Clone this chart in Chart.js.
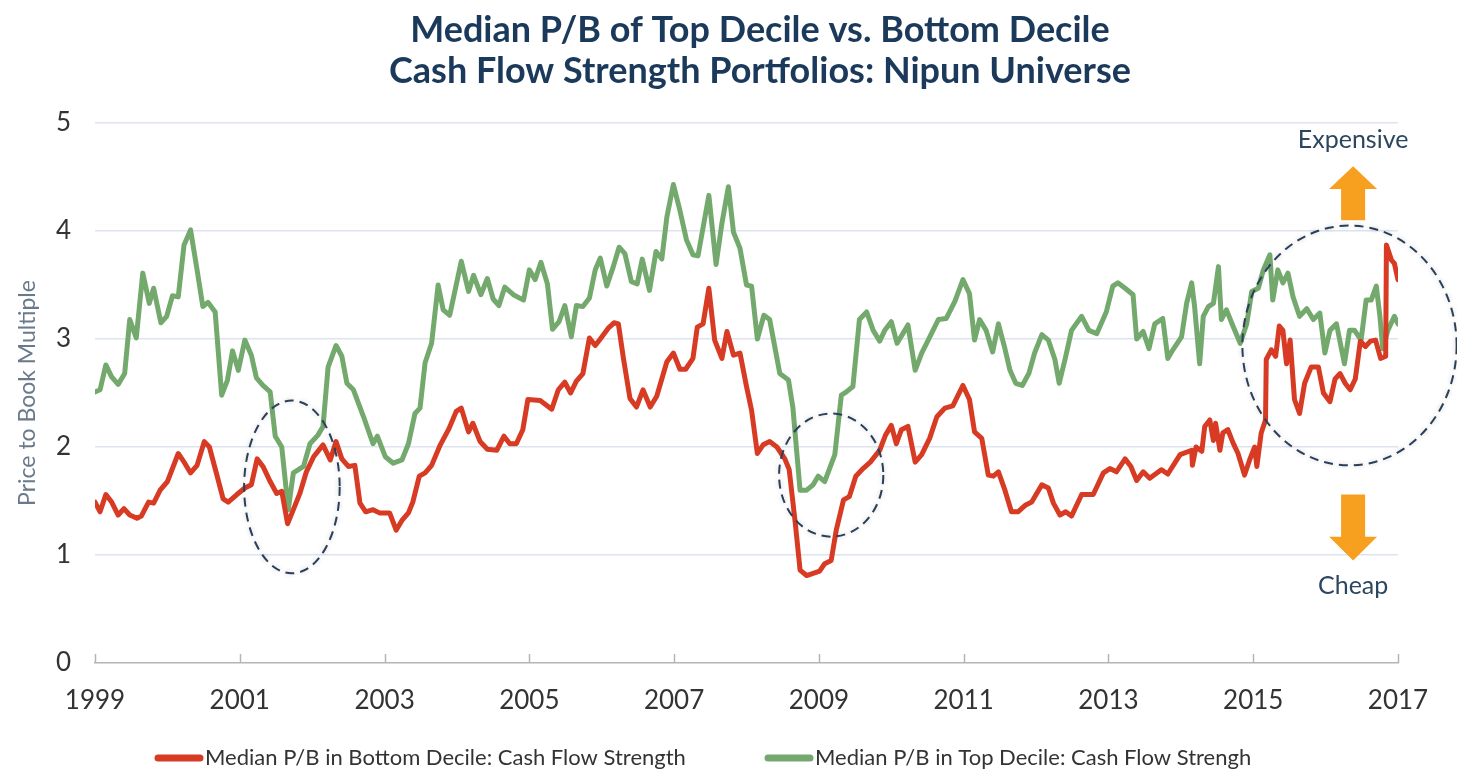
<!DOCTYPE html>
<html>
<head>
<meta charset="utf-8">
<script src="https://cdn.jsdelivr.net/npm/chart.js@4.4.0/dist/chart.umd.min.js"></script>
<style>
  html, body { margin: 0; padding: 0; background: #fff; }
  #wrap { width: 1457px; height: 771px; position: relative; }
</style>
</head>
<body>
<div id="wrap"><canvas id="pbChart"></canvas></div>
<script>
// Title / labels ++++++++++++++++++++
const titleLines = ['Median P/B of Top Decile vs. Bottom Decile', 'Cash Flow Strength Portfolios: Nipun Universe'];
const yAxisTitle = 'Price to Book Multiple';
const xTickYears = [1999, 2001, 2003, 2005, 2007, 2009, 2011, 2013, 2015, 2017];
const yTickValues = [0, 1, 2, 3, 4, 5];
const bottomLabel = 'Median P/B in Bottom Decile: Cash Flow Strength';
const topLabel = 'Median P/B in Top Decile: Cash Flow Strengh';

// Bottom decile (red)
const bottomYears = [1999.00,1999.07,1999.15,1999.23,1999.32,1999.40,1999.48,1999.58,1999.64,1999.74,1999.81,1999.90,
  2000.00,2000.15,2000.24,2000.32,2000.41,2000.51,2000.58,2000.68,2000.77,2000.84,2000.96,
  2001.07,2001.16,2001.24,2001.32,2001.42,2001.51,2001.58,2001.66,2001.74,2001.83,2001.92,
  2002.02,2002.15,2002.25,2002.33,2002.41,2002.50,2002.59,2002.66,2002.74,2002.84,2002.93,
  2003.07,2003.16,2003.24,2003.33,2003.39,2003.48,2003.56,2003.65,2003.77,2003.89,2003.99,
  2004.06,2004.16,2004.22,2004.32,2004.42,2004.55,2004.65,2004.73,2004.82,2004.91,2004.98,
  2005.15,2005.31,2005.40,2005.49,2005.57,2005.65,2005.74,2005.83,2005.91,2005.98,
  2006.09,2006.17,2006.23,2006.30,2006.39,2006.48,2006.57,2006.67,2006.76,2006.90,2006.99,
  2007.08,2007.16,2007.26,2007.32,2007.40,2007.48,2007.56,2007.66,2007.73,2007.82,2007.91,
  2008.00,2008.07,2008.15,2008.23,2008.32,2008.42,2008.53,2008.59,2008.67,2008.74,2008.83,2008.92,
  2009.01,2009.08,2009.17,2009.24,2009.34,2009.42,2009.51,2009.61,2009.71,2009.84,2009.92,
  2010.00,2010.07,2010.14,2010.23,2010.33,2010.42,2010.53,2010.63,2010.74,2010.85,2010.99,
  2011.08,2011.15,2011.25,2011.34,2011.41,2011.48,2011.57,2011.66,2011.75,2011.85,2011.94,
  2012.08,2012.17,2012.24,2012.33,2012.41,2012.49,2012.63,2012.79,2012.93,
  2013.02,2013.11,2013.23,2013.31,2013.39,2013.48,2013.57,2013.73,2013.82,2013.99,
  2014.15,2014.16,2014.21,2014.29,2014.33,2014.40,2014.45,2014.48,2014.54,2014.58,2014.65,2014.72,2014.79,2014.88,2014.95,
  2015.02,2015.05,2015.11,2015.17,2015.18,2015.25,2015.31,2015.36,2015.41,2015.46,2015.51,2015.57,2015.64,2015.71,2015.80,2015.90,2015.97,
  2016.06,2016.13,2016.20,2016.27,2016.34,2016.41,2016.48,2016.55,2016.62,2016.69,2016.76,2016.83,2016.84,2016.91,2016.95,2017.00];
const bottomPB = [1.49,1.40,1.56,1.49,1.37,1.43,1.37,1.34,1.36,1.49,1.48,1.60,
  1.68,1.94,1.85,1.76,1.83,2.05,2.00,1.75,1.52,1.49,1.56,
  1.62,1.65,1.89,1.82,1.68,1.57,1.59,1.29,1.42,1.57,1.77,
  1.91,2.02,1.88,2.05,1.89,1.82,1.83,1.48,1.40,1.42,1.39,
  1.39,1.23,1.32,1.39,1.49,1.73,1.76,1.83,2.02,2.17,2.33,
  2.36,2.14,2.22,2.05,1.98,1.97,2.10,2.03,2.03,2.16,2.44,
  2.43,2.35,2.53,2.60,2.50,2.61,2.68,3.01,2.94,3.00,
  3.10,3.15,3.14,2.82,2.45,2.37,2.53,2.37,2.47,2.79,2.87,
  2.72,2.72,2.82,3.11,3.14,3.47,2.99,2.82,3.07,2.85,2.87,
  2.56,2.34,1.94,2.02,2.05,2.00,1.89,1.79,1.32,0.86,0.81,0.83,
  0.85,0.92,0.95,1.23,1.51,1.54,1.73,1.80,1.86,1.97,2.11,
  2.20,2.03,2.16,2.19,1.86,1.93,2.08,2.28,2.36,2.38,2.57,
  2.44,2.14,2.08,1.74,1.73,1.77,1.60,1.40,1.40,1.46,1.49,
  1.65,1.62,1.48,1.37,1.40,1.36,1.56,1.56,1.76,
  1.80,1.77,1.89,1.82,1.69,1.77,1.71,1.79,1.75,1.93,
  1.97,1.83,2.00,1.96,2.19,2.25,2.06,2.22,1.97,2.13,2.16,2.04,1.94,1.74,1.88,
  2.00,1.82,2.13,2.25,2.81,2.90,2.84,3.12,3.08,2.77,2.99,2.44,2.31,2.59,2.74,2.74,2.50,
  2.42,2.63,2.68,2.59,2.53,2.63,2.98,2.93,2.98,2.99,2.82,2.84,3.87,3.73,3.70,3.55];

// Top decile (green)
const topYears = [1999.00,1999.07,1999.15,1999.23,1999.32,1999.41,1999.48,1999.57,1999.66,1999.75,1999.81,1999.91,1999.99,
  2000.07,2000.15,2000.23,2000.32,2000.41,2000.49,2000.56,2000.66,2000.75,2000.83,2000.90,2000.98,
  2001.07,2001.16,2001.23,2001.32,2001.42,2001.49,2001.58,2001.67,2001.74,2001.88,2001.97,
  2002.08,2002.15,2002.22,2002.33,2002.41,2002.48,2002.57,2002.71,2002.84,2002.90,
  2003.01,2003.12,2003.24,2003.33,2003.42,2003.49,2003.56,2003.65,2003.74,2003.81,2003.90,
  2004.06,2004.16,2004.23,2004.33,2004.42,2004.50,2004.58,2004.66,2004.78,2004.92,
  2005.00,2005.08,2005.16,2005.25,2005.32,2005.41,2005.49,2005.58,2005.65,2005.74,2005.83,2005.91,2005.98,
  2006.07,2006.16,2006.24,2006.32,2006.41,2006.49,2006.56,2006.66,2006.75,2006.83,2006.90,2006.99,
  2007.08,2007.17,2007.26,2007.33,2007.48,2007.58,2007.66,2007.75,2007.82,2007.91,
  2008.00,2008.07,2008.15,2008.24,2008.32,2008.46,2008.58,2008.64,2008.74,2008.83,2008.92,2008.99,
  2009.08,2009.22,2009.31,2009.38,2009.47,2009.56,2009.66,2009.75,2009.84,2009.91,
  2010.00,2010.08,2010.16,2010.23,2010.33,2010.42,2010.51,2010.65,2010.76,2010.88,2010.99,
  2011.08,2011.15,2011.22,2011.31,2011.40,2011.48,2011.57,2011.64,2011.72,2011.81,2011.90,2011.98,
  2012.08,2012.17,2012.26,2012.32,2012.40,2012.49,2012.63,2012.73,2012.84,2012.97,
  2013.06,2013.13,2013.23,2013.34,2013.39,2013.48,2013.56,2013.64,2013.75,2013.82,2013.89,
  2014.01,2014.08,2014.15,2014.19,2014.26,2014.31,2014.38,2014.45,2014.52,2014.56,2014.63,2014.72,2014.82,2014.91,2014.98,
  2015.07,2015.14,2015.23,2015.27,2015.34,2015.41,2015.48,2015.55,2015.64,2015.74,2015.83,2015.92,2015.99,
  2016.06,2016.15,2016.26,2016.33,2016.40,2016.49,2016.56,2016.63,2016.70,2016.75,2016.79,2016.86,2016.95,2017.00];
const topPB = [2.51,2.53,2.76,2.65,2.58,2.68,3.18,3.01,3.61,3.33,3.47,3.15,3.21,
  3.40,3.39,3.87,4.01,3.64,3.30,3.34,3.25,2.48,2.62,2.89,2.71,
  2.99,2.85,2.64,2.57,2.51,2.10,2.00,1.42,1.76,1.82,2.03,
  2.11,2.19,2.74,2.94,2.84,2.59,2.53,2.28,2.03,2.10,
  1.91,1.85,1.88,2.03,2.31,2.36,2.78,2.96,3.50,3.27,3.22,
  3.72,3.44,3.59,3.41,3.56,3.37,3.31,3.48,3.41,3.36,
  3.64,3.55,3.71,3.51,3.09,3.16,3.31,3.02,3.31,3.30,3.38,3.64,3.75,
  3.49,3.67,3.85,3.79,3.53,3.51,3.74,3.45,3.81,3.74,4.13,4.43,
  4.19,3.92,3.78,3.77,4.33,3.69,4.07,4.41,3.99,3.84,
  3.50,3.49,3.00,3.22,3.18,2.68,2.62,2.37,1.60,1.60,1.65,1.73,
  1.68,1.93,2.48,2.51,2.56,3.18,3.25,3.08,2.98,3.08,
  3.16,2.96,3.05,3.13,2.71,2.87,2.99,3.18,3.19,3.35,3.55,
  3.42,2.99,3.18,3.08,2.88,3.14,2.91,2.71,2.59,2.57,2.68,2.87,
  3.04,2.99,2.81,2.59,2.81,3.08,3.21,3.08,3.05,3.25,
  3.49,3.52,3.47,3.41,3.00,3.07,2.91,3.14,3.19,2.82,2.90,
  3.02,3.33,3.52,3.30,2.77,3.21,3.30,3.33,3.67,3.18,3.27,3.12,2.96,3.14,3.44,
  3.47,3.64,3.78,3.36,3.64,3.52,3.61,3.39,3.21,3.28,3.18,3.24,2.87,
  3.08,3.14,2.77,3.08,3.08,2.99,3.36,3.36,3.49,3.21,2.91,3.08,3.21,3.14];

const redColor = '#d83b24';
const greenColor = '#74a96e';

// build point lists for the library
function toPoints(xs, ys){
    return xs.map((x, i) => ({x: x, y: ys[i]}));
}

// Annotation shapes (in data units) ++++++++++++++++
const ellipses = [
    {cx: 2001.72, cy: 1.63, rx: 0.66, ry: 0.80},
    {cx: 2009.17, cy: 1.74, rx: 0.72, ry: 0.57},
    {cx: 2016.33, cy: 2.94, rx: 1.48, ry: 1.11}
];

// draws a block arrow pointing up (dir=-1) or down (dir=1)
function blockArrow(ctx, ax, tip, base, end){
    ctx.beginPath();
    ctx.moveTo(ax, tip);
    ctx.lineTo(ax + 24, base);
    ctx.lineTo(ax + 12, base);
    ctx.lineTo(ax + 12, end);
    ctx.lineTo(ax - 12, end);
    ctx.lineTo(ax - 12, base);
    ctx.lineTo(ax - 24, base);
    ctx.closePath();
    ctx.fill();
}

const annotationPlugin = {
    id: 'annotations',
    afterDatasetsDraw(chart){
        const ctx = chart.ctx;
        const xs = chart.scales.x;
        const ys = chart.scales.y;
        ctx.save();
        // dashed ellipses
        ctx.setLineDash([9, 6]);
        ctx.lineWidth = 2;
        ctx.strokeStyle = '#2a3f5a';
        ctx.shadowColor = 'rgba(0,0,0,0.22)';
        ctx.shadowBlur = 5;
        ellipses.forEach(e => {
            const cx = xs.getPixelForValue(e.cx);
            const cy = ys.getPixelForValue(e.cy);
            const rx = Math.abs(xs.getPixelForValue(e.cx + e.rx) - cx);
            const ry = Math.abs(ys.getPixelForValue(e.cy + e.ry) - cy);
            ctx.beginPath();
            ctx.ellipse(cx, cy, rx, ry, 0, 0, Math.PI * 2);
            ctx.stroke();
        });
        ctx.restore();

        // arrows
        ctx.save();
        ctx.fillStyle = '#f7a020';
        const ax = xs.getPixelForValue(2016.38);
        blockArrow(ctx, ax, ys.getPixelForValue(4.60), ys.getPixelForValue(4.39), ys.getPixelForValue(4.10));
        blockArrow(ctx, ax, ys.getPixelForValue(0.95), ys.getPixelForValue(1.17), ys.getPixelForValue(1.56));

        ctx.fillStyle = '#2c4660';
        ctx.font = '25px Lato';
        ctx.textAlign = 'center';
        ctx.textBaseline = 'middle';
        ctx.fillText('Expensive', ax, ys.getPixelForValue(4.84));
        ctx.fillText('Cheap', ax, ys.getPixelForValue(0.71));
        ctx.restore();
    },
    afterDraw(chart){
        const ctx = chart.ctx;
        const xs = chart.scales.x;
        const area = chart.chartArea;
        ctx.save();
        // small upward ticks on the x axis
        ctx.strokeStyle = '#b4b4b4';
        ctx.lineWidth = 1.5;
        xs.ticks.forEach(t => {
            const px = Math.round(xs.getPixelForValue(t.value)) + 0.5;
            ctx.beginPath();
            ctx.moveTo(px, area.bottom);
            ctx.lineTo(px, area.bottom - 9);
            ctx.stroke();
        });

        // title
        ctx.fillStyle = '#1b3a5b';
        ctx.font = 'bold 36px Lato';
        ctx.textAlign = 'center';
        ctx.textBaseline = 'middle';
        ctx.fillText(titleLines[0], 760, 30);
        ctx.fillText(titleLines[1], 760, 71);

        // legend
        const items = [
            {label: chart.data.datasets[0].label, color: chart.data.datasets[0].borderColor, x: 155},
            {label: chart.data.datasets[1].label, color: chart.data.datasets[1].borderColor, x: 765}
        ];
        ctx.font = '22px Lato';
        ctx.textAlign = 'left';
        items.forEach(it => {
            ctx.strokeStyle = it.color;
            ctx.lineWidth = 7;
            ctx.lineCap = 'round';
            ctx.beginPath();
            ctx.moveTo(it.x + 3, 758);
            ctx.lineTo(it.x + 45, 758);
            ctx.stroke();
            ctx.fillStyle = '#333';
            ctx.fillText(it.label, it.x + 50, 758);
        });
        ctx.restore();
    }
};

const ctx = document.getElementById('pbChart').getContext('2d');
const pbChart = new Chart(ctx, {
    type: 'line',
    data: {
        datasets: [{
            label: bottomLabel,
            data: toPoints(bottomYears, bottomPB),
            borderColor: redColor,
            borderWidth: 5,
            pointRadius: 0,
            tension: 0,
            borderJoinStyle: 'round',
            borderCapStyle: 'round'
        }, {
            label: topLabel,
            data: toPoints(topYears, topPB),
            borderColor: greenColor,
            borderWidth: 5,
            pointRadius: 0,
            tension: 0,
            borderJoinStyle: 'round',
            borderCapStyle: 'round'
        }]
    },
    options: {
        responsive: true,
        maintainAspectRatio: false,
        animation: false,
        layout: { padding: { top: 123, right: 59, left: 0, bottom: 0 } },
        plugins: {
            legend: { display: false },
            title: { display: false },
            tooltip: { enabled: false }
        },
        scales: {
            x: {
                type: 'linear',
                min: xTickYears[0],
                max: xTickYears[xTickYears.length - 1],
                afterBuildTicks: axis => { axis.ticks = xTickYears.map(v => ({value: v})); },
                afterFit: axis => { axis.height = 108; },
                grid: { display: false },
                border: { display: true, color: '#b4b4b4', width: 1.5 },
                ticks: {
                    color: '#333',
                    font: { family: 'Lato', size: 26 },
                    padding: 14,
                    maxRotation: 0,
                    callback: v => String(v)
                }
            },
            y: {
                min: yTickValues[0],
                max: yTickValues[yTickValues.length - 1],
                afterBuildTicks: axis => { axis.ticks = yTickValues.map(v => ({value: v})); },
                afterFit: axis => { axis.width = 95; },
                grid: {
                    color: c => c.tick.value === 0 ? 'rgba(0,0,0,0)' : '#dde4ef',
                    lineWidth: 1.5,
                    drawTicks: false
                },
                border: { display: false },
                ticks: {
                    color: '#333',
                    font: { family: 'Lato', size: 26 },
                    padding: 24
                },
                title: {
                    display: true,
                    text: yAxisTitle,
                    color: '#6b7a8b',
                    font: { family: 'Lato', size: 23 },
                    padding: { top: 14, bottom: 0 }
                }
            }
        }
    },
    plugins: [annotationPlugin]
});
</script>
</body>
</html>
